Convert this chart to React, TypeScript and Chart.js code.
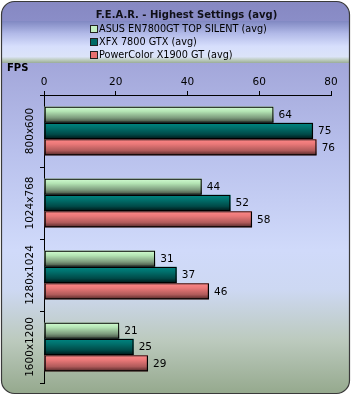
import React, { useEffect, useRef } from 'react';
import { Chart, registerables } from 'chart.js';

Chart.register(...registerables);

const chartTitle = 'F.E.A.R. - Highest Settings (avg)';
const axisTitle = 'FPS';
const categories = ['800x600', '1024x768', '1280x1024', '1600x1200'];
const seriesNames = ['ASUS EN7800GT TOP SILENT (avg)', 'XFX 7800 GTX (avg)', 'PowerColor X1900 GT (avg)'];
const asusValues = [64, 44, 31, 21];
const xfxValues = [75, 52, 37, 25];
const powerColorValues = [76, 58, 46, 29];
const xTickMin = 0;
const xTickMax = 80;
const xTickStep = 20;

const FONT = '"DejaVu Sans", Verdana, sans-serif';

const barGradients = [
  ['#d4ffd4', '#b4e4b4', '#7c9a7c', '#3a443a'],
  ['#008682', '#00706c', '#004a48', '#001414'],
  ['#ff8888', '#ea7878', '#b05a5a', '#4c2424'],
];
const legendColors = ['#c4f0c4', '#006a66', '#e87070'];

function roundRectPath(ctx: CanvasRenderingContext2D, x: number, y: number, w: number, h: number, r: number) {
  ctx.beginPath();
  ctx.moveTo(x + r, y);
  ctx.lineTo(x + w - r, y);
  ctx.arcTo(x + w, y, x + w, y + r, r);
  ctx.lineTo(x + w, y + h - r);
  ctx.arcTo(x + w, y + h, x + w - r, y + h, r);
  ctx.lineTo(x + r, y + h);
  ctx.arcTo(x, y + h, x, y + h - r, r);
  ctx.lineTo(x, y + r);
  ctx.arcTo(x, y, x + r, y, r);
  ctx.closePath();
}

const backgroundPlugin = {
  id: 'panelBackground',
  beforeDraw(chart: any) {
    const ctx: CanvasRenderingContext2D = chart.ctx;
    const W = chart.width;
    const H = chart.height;
    ctx.save();
    roundRectPath(ctx, 1.5, 1.5, W - 3, H - 3, 13);
    const g = ctx.createLinearGradient(0, 0, 0, H);
    g.addColorStop(0, '#8688c2');
    g.addColorStop(20 / H, '#8a8dc7');
    g.addColorStop(64 / H, '#a3a7da');
    g.addColorStop(150 / H, '#b8c0ec');
    g.addColorStop(250 / H, '#d0dafa');
    g.addColorStop(290 / H, '#cdd8f2');
    g.addColorStop(340 / H, '#bccabe');
    g.addColorStop(1, '#94a88c');
    ctx.fillStyle = g;
    ctx.fill();
    ctx.save();
    ctx.clip();
    const bandTop = 21;
    const bandBottom = 63;
    const bg = ctx.createLinearGradient(0, bandTop, 0, bandBottom);
    bg.addColorStop(0, '#8088c2');
    bg.addColorStop(0.3, '#b2bae8');
    bg.addColorStop(0.6, '#d6defc');
    bg.addColorStop(0.85, '#dce4f8');
    bg.addColorStop(0.93, '#bccbbc');
    bg.addColorStop(1, '#9aac98');
    ctx.fillStyle = bg;
    ctx.fillRect(0, bandTop, W, bandBottom - bandTop);
    ctx.restore();
    roundRectPath(ctx, 1.5, 1.5, W - 3, H - 3, 13);
    ctx.strokeStyle = '#3a3a3a';
    ctx.lineWidth = 1.2;
    ctx.stroke();
    ctx.restore();
  },
  beforeDatasetsDraw(chart: any) {
    const ctx: CanvasRenderingContext2D = chart.ctx;
    ctx.save();
    chart.data.datasets.forEach((_ds: any, di: number) => {
      const meta = chart.getDatasetMeta(di);
      meta.data.forEach((el: any) => {
        const p = el.getProps(['x', 'y', 'base', 'height'], true);
        const top = p.y - p.height / 2;
        const g = ctx.createLinearGradient(0, top, 0, top + p.height);
        const stops = barGradients[di];
        g.addColorStop(0, stops[0]);
        g.addColorStop(0.3, stops[1]);
        g.addColorStop(0.7, stops[2]);
        g.addColorStop(1, stops[3]);
        ctx.fillStyle = g;
        ctx.fillRect(Math.min(p.base, p.x), top, Math.abs(p.x - p.base), p.height);
      });
    });
    ctx.restore();
  },
  afterDraw(chart: any) {
    const ctx: CanvasRenderingContext2D = chart.ctx;
    const area = chart.chartArea;
    ctx.save();
    ctx.font = `bold 10px ${FONT}`;
    ctx.textAlign = 'center';
    ctx.textBaseline = 'middle';
    ctx.fillStyle = '#101018';
    ctx.fillText(chartTitle, (area.left + area.right) / 2 - 1, 15);
    ctx.font = `9.7px ${FONT}`;
    ctx.textAlign = 'left';
    const legendY = [29, 42, 55];
    seriesNames.forEach((name, i) => {
      const y = legendY[i];
      ctx.fillStyle = legendColors[i];
      ctx.fillRect(91, y - 3, 6, 6);
      ctx.strokeStyle = '#202020';
      ctx.lineWidth = 1;
      ctx.strokeRect(90.5, y - 3.5, 7, 7);
      ctx.fillStyle = '#000000';
      ctx.fillText(name, 99, y + 0.5);
    });
    ctx.font = `bold 10px ${FONT}`;
    ctx.fillStyle = '#000000';
    ctx.fillText(axisTitle, 7, 68);
    const yScale = chart.scales.y;
    ctx.font = `10.5px ${FONT}`;
    categories.forEach((cat, i) => {
      const cy = yScale.getPixelForValue(i);
      ctx.save();
      ctx.translate(30, cy);
      ctx.rotate(-Math.PI / 2);
      ctx.textAlign = 'center';
      ctx.textBaseline = 'middle';
      ctx.fillText(cat, 0, 0);
      ctx.restore();
    });
    ctx.font = `10.5px ${FONT}`;
    ctx.textAlign = 'left';
    ctx.textBaseline = 'middle';
    chart.data.datasets.forEach((ds: any, di: number) => {
      const meta = chart.getDatasetMeta(di);
      meta.data.forEach((el: any, i: number) => {
        const p = el.getProps(['x', 'y'], true);
        ctx.fillText(String(ds.data[i]), p.x + 5, p.y + 0.5);
      });
    });
    ctx.restore();
  },
};

export default function App() {
  const canvasRef = useRef<HTMLCanvasElement | null>(null);

  useEffect(() => {
    const canvas = canvasRef.current;
    if (!canvas) return;
    const chart = new Chart(canvas, {
      type: 'bar',
      data: {
        labels: categories,
        datasets: [
          { label: seriesNames[0], data: asusValues },
          { label: seriesNames[1], data: xfxValues },
          { label: seriesNames[2], data: powerColorValues },
        ].map((d) => ({
          ...d,
          backgroundColor: 'rgba(0,0,0,0)',
          borderColor: '#000000',
          borderWidth: 1.2,
          borderSkipped: false,
          categoryPercentage: 0.68,
          barPercentage: 1,
        })),
      },
      options: {
        indexAxis: 'y',
        responsive: false,
        animation: false,
        devicePixelRatio: 1,
        layout: { padding: { left: 40, right: 20, top: 75, bottom: 12 } },
        plugins: {
          legend: { display: false },
          title: { display: false },
          tooltip: { enabled: false },
        },
        scales: {
          x: {
            position: 'top',
            min: xTickMin,
            max: xTickMax,
            afterFit: (scale: any) => { scale.height = 20; },
            ticks: {
              stepSize: xTickStep,
              color: '#000000',
              padding: 2.5,
              font: { family: FONT, size: 10.5 },
            },
            grid: {
              display: true,
              drawOnChartArea: false,
              drawTicks: true,
              tickLength: 4,
              color: '#000000',
            },
            border: { display: true, color: '#000000', width: 1 },
          },
          y: {
            ticks: { display: false },
            grid: {
              display: true,
              drawOnChartArea: false,
              drawTicks: true,
              tickLength: 4,
              color: '#000000',
              offset: true,
            },
            border: { display: true, color: '#000000', width: 1 },
          },
        },
      },
      plugins: [backgroundPlugin],
    });
    return () => chart.destroy();
  }, []);

  return (
    <div style={{ position: 'fixed', left: 0, top: 0, width: 351, height: 395, background: '#ffffff' }}>
      <canvas ref={canvasRef} width={351} height={395} style={{ display: 'block' }} />
    </div>
  );
}
